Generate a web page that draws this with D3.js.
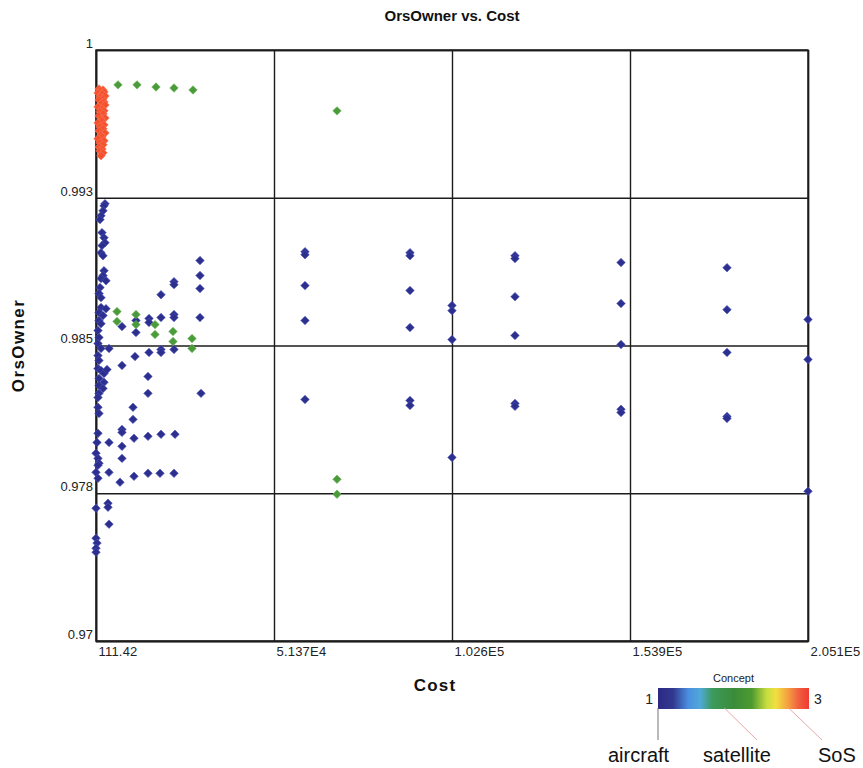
<!DOCTYPE html>
<html>
<head>
<meta charset="utf-8">
<script src="https://cdn.jsdelivr.net/npm/d3@7"></script>
<style>
  body { margin: 0; background: #fff; }
  text { font-family: Arial, "Liberation Sans", sans-serif; }
</style>
</head>
<body>
<svg id="scatter" width="863" height="768"></svg>
<script>
// tick values and their printed labels
const xTicks = [111.42, 51361.42, 102611.42, 153861.42, 205111.42];
const xTickLabels = ['111.42', '5.137E4', '1.026E5', '1.539E5', '2.051E5'];
const yTicks = [0.97, 0.9775, 0.985, 0.9925, 1];
const yTickLabels = ['0.97', '0.978', '0.985', '0.993', '1'];

// legend: concept 1..3
const conceptNames = ['aircraft', 'satellite', 'SoS'];

// [Cost, OrsOwner] per concept
const aircraft = [
  // dense column at the low-cost end
  [2703, 0.99220], [2415, 0.99209], [2127, 0.99184], [1551, 0.99159], [1263, 0.99139],
  [1839, 0.99073], [2415, 0.99047], [2703, 0.99022], [1839, 0.99007], [1551, 0.98971],
  [2127, 0.98956], [2415, 0.98880], [2127, 0.98855], [1551, 0.98840], [2990, 0.98829],
  [1263, 0.98794], [975, 0.98764], [1551, 0.98743], [1551, 0.98693], [2990, 0.98687],
  [975, 0.98667], [2127, 0.98652], [975, 0.98627], [1551, 0.98611], [687, 0.98576],
  [975, 0.98541], [687, 0.98510], [1551, 0.98485], [687, 0.98449], [975, 0.98424],
  [687, 0.98383], [1551, 0.98373], [2415, 0.98358], [975, 0.98333], [2415, 0.98313],
  [975, 0.98297], [2127, 0.98282], [975, 0.98257], [687, 0.98236], [687, 0.98186],
  [975, 0.98155], [687, 0.98054], [399, 0.98008], [111, 0.97953], [687, 0.97927],
  [975, 0.97902], [687, 0.97892], [111, 0.97856], [687, 0.97826], [111, 0.97674],
  [111, 0.97522], [399, 0.97497], [111, 0.97471], [111, 0.97451],
  // small-cost groups
  [3278, 0.98378], [3854, 0.98485], [3854, 0.98008], [3854, 0.97856], [3566, 0.97699],
  [3566, 0.97679], [3854, 0.97593],
  [7597, 0.98596], [7597, 0.98399], [7597, 0.98074], [7597, 0.98059], [7597, 0.97988],
  [7597, 0.97927], [7021, 0.97806],
  [11628, 0.98627], [11628, 0.98566], [11340, 0.98444], [10765, 0.98186], [10765, 0.98125],
  [11052, 0.98029], [11052, 0.97836],
  [15371, 0.98637], [15371, 0.98617], [15371, 0.98465], [15083, 0.98343], [15083, 0.98257],
  [15083, 0.98039], [15083, 0.97851],
  [18826, 0.98758], [18826, 0.98642], [18826, 0.98480], [18826, 0.98465], [18826, 0.98049],
  [18538, 0.97851],
  [22569, 0.98824], [22569, 0.98809], [22569, 0.98657], [22569, 0.98642], [22569, 0.98480],
  [22857, 0.98049], [22569, 0.97851],
  [30055, 0.98931], [30055, 0.98855], [30055, 0.98789], [30055, 0.98642], [30343, 0.98257],
  // expensive designs
  [60286, 0.98976], [60286, 0.98961], [60286, 0.98804], [60286, 0.98627], [60286, 0.98226],
  [90518, 0.98971], [90518, 0.98956], [90518, 0.98779], [90518, 0.98591], [90518, 0.98221],
  [90518, 0.98196],
  [102611, 0.98703], [102611, 0.98677], [102611, 0.98530], [102611, 0.97932],
  [120749, 0.98956], [120749, 0.98941], [120749, 0.98748], [120749, 0.98551], [120749, 0.98206],
  [120749, 0.98191],
  [151269, 0.98921], [151269, 0.98713], [151269, 0.98505], [151269, 0.98176], [151269, 0.98160],
  [181789, 0.98895], [181789, 0.98682], [181789, 0.98465], [181789, 0.98140], [181789, 0.98130],
  [205111, 0.98632], [205111, 0.98429], [205111, 0.97760]
];

const satellite = [
  [6445, 0.99823], [11916, 0.99823], [17386, 0.99812], [22569, 0.99807], [28039, 0.99797],
  [69500, 0.99691], [69500, 0.97821], [69500, 0.97745],
  [6157, 0.98672], [6157, 0.98622], [11628, 0.98657], [11628, 0.98606], [17098, 0.98606],
  [17098, 0.98556], [22281, 0.98571], [22281, 0.98520], [27751, 0.98535], [27751, 0.98485]
];

const sos = [
  [975, 0.99802], [2127, 0.99797], [1263, 0.99792], [2415, 0.99787], [687, 0.99782],
  [1839, 0.99777], [2703, 0.99767], [1263, 0.99762], [2127, 0.99752], [975, 0.99747],
  [2415, 0.99736], [1551, 0.99726], [2703, 0.99721], [687, 0.99711], [1839, 0.99701],
  [2415, 0.99691], [1263, 0.99686], [2127, 0.99676], [975, 0.99666], [2703, 0.99655],
  [1551, 0.99650], [1839, 0.99640], [687, 0.99630], [2415, 0.99620], [1263, 0.99610],
  [2127, 0.99600], [975, 0.99590], [2703, 0.99579], [1551, 0.99569], [1839, 0.99559],
  [687, 0.99549], [2415, 0.99539], [1263, 0.99529], [2127, 0.99519], [975, 0.99508],
  [1839, 0.99498], [1263, 0.99488], [2127, 0.99478], [1551, 0.99463]
];

const svg = d3.select('#scatter');
const width = +svg.attr('width');
const height = +svg.attr('height');

const margin = { top: 50, right: 55, bottom: 127, left: 96 };
const innerWidth = width - margin.left - margin.right;
const innerHeight = height - margin.top - margin.bottom;

svg.append('rect').attr('width', width).attr('height', height).attr('fill', '#fff');

const xScale = d3.scaleLinear()
  .domain([xTicks[0], xTicks[xTicks.length - 1]])
  .range([0, innerWidth]);

const yScale = d3.scaleLinear()
  .domain([yTicks[0], yTicks[yTicks.length - 1]])
  .range([innerHeight, 0]);

// concept colour ramp (1 = aircraft ... 3 = SoS)
const rampStops = [
  [0.00, '#2b2a86'], [0.10, '#33388f'], [0.20, '#4a8fe0'], [0.28, '#50a8d8'],
  [0.36, '#3c9a5c'], [0.50, '#3a8c3a'], [0.62, '#4c9a30'], [0.72, '#c8dc40'],
  [0.78, '#f0e040'], [0.86, '#f5a040'], [0.93, '#f06040'], [1.00, '#f03a30']
];
const markColor = { aircraft: '#2c2f8e', satellite: '#4b9b3c', SoS: '#f4512f' };
const markEdge = { aircraft: '#4a52b8', satellite: '#6ab456', SoS: '#f87a5a' };

const g = svg.append('g')
  .attr('transform', `translate(${margin.left}, ${margin.top})`);

// x axis with full-height grid lines
const xAxis = g.append('g')
  .attr('transform', `translate(0, ${innerHeight})`)
  .call(d3.axisBottom(xScale)
    .tickValues(xTicks)
    .tickSize(-innerHeight)
    .tickFormat((d, i) => xTickLabels[i]));
xAxis.select('.domain').attr('stroke', '#1c1c1c').attr('stroke-width', 1.4);
xAxis.selectAll('line').attr('stroke', '#1c1c1c').attr('stroke-width', 1.4);
xAxis.selectAll('text')
  .attr('text-anchor', 'start')
  .attr('x', 2)
  .attr('y', 6)
  .attr('dy', '0.71em')
  .style('font-size', '13px')
  .style('letter-spacing', '0.2px')
  .attr('fill', '#222');

// y axis with full-width grid lines
const yAxis = g.append('g')
  .call(d3.axisLeft(yScale)
    .tickValues(yTicks)
    .tickSize(-innerWidth)
    .tickPadding(3)
    .tickFormat((d, i) => yTickLabels[i]));
yAxis.select('.domain').attr('stroke', '#1c1c1c').attr('stroke-width', 1.4);
yAxis.selectAll('line').attr('stroke', '#1c1c1c').attr('stroke-width', 1.4);
yAxis.selectAll('text')
  .attr('dy', '-0.2em')
  .style('font-size', '13px')
  .attr('fill', '#222');

// plot frame
g.append('rect')
  .attr('width', innerWidth)
  .attr('height', innerHeight)
  .attr('fill', 'none')
  .attr('stroke', '#1c1c1c')
  .attr('stroke-width', 1.4);

// points
const diamond = d3.symbol().type(d3.symbolSquare).size(36);
const series = [
  { name: 'aircraft', data: aircraft },
  { name: 'satellite', data: satellite },
  { name: 'SoS', data: sos }
];

g.append('g')
  .selectAll('g')
  .data(series)
  .join('g')
  .selectAll('path')
  .data(s => s.data.map(d => ({ name: s.name, cost: d[0], ors: d[1] })))
  .join('path')
  .attr('d', diamond)
  .attr('transform', d => `translate(${xScale(d.cost)}, ${yScale(d.ors)}) rotate(45)`)
  .attr('fill', d => markColor[d.name])
  .attr('stroke', d => markEdge[d.name])
  .attr('stroke-width', 0.6);

// titles
svg.append('text')
  .attr('x', margin.left + innerWidth / 2)
  .attr('y', 21)
  .attr('text-anchor', 'middle')
  .style('font-size', '15px')
  .style('font-weight', 'bold')
  .attr('fill', '#111')
  .text('OrsOwner vs. Cost');

svg.append('text')
  .attr('x', 435)
  .attr('y', 691)
  .attr('text-anchor', 'middle')
  .style('font-size', '17px')
  .style('font-weight', 'bold')
  .style('letter-spacing', '1.2px')
  .attr('fill', '#111')
  .text('Cost');

svg.append('text')
  .attr('transform', `translate(24, ${margin.top + innerHeight / 2}) rotate(-90)`)
  .attr('text-anchor', 'middle')
  .style('font-size', '17px')
  .style('font-weight', 'bold')
  .style('letter-spacing', '1.4px')
  .attr('fill', '#111')
  .text('OrsOwner');

// colour legend
const legendScale = d3.scaleLinear().domain([1, 3]).range([658, 809]);
const grad = svg.append('defs').append('linearGradient').attr('id', 'conceptRamp');
grad.selectAll('stop')
  .data(rampStops)
  .join('stop')
  .attr('offset', d => d[0])
  .attr('stop-color', d => d[1]);

const legend = svg.append('g');
legend.append('rect')
  .attr('x', legendScale(1))
  .attr('y', 688)
  .attr('width', legendScale(3) - legendScale(1))
  .attr('height', 21)
  .attr('fill', 'url(#conceptRamp)');

legend.append('text')
  .attr('x', (legendScale(1) + legendScale(3)) / 2)
  .attr('y', 682)
  .attr('text-anchor', 'middle')
  .style('font-size', '11px')
  .attr('fill', '#222')
  .text('Concept');

legend.append('text')
  .attr('x', legendScale(1) - 5)
  .attr('y', 704)
  .attr('text-anchor', 'end')
  .style('font-size', '14px')
  .attr('fill', '#222')
  .text('1');

legend.append('text')
  .attr('x', legendScale(3) + 5)
  .attr('y', 704)
  .style('font-size', '14px')
  .attr('fill', '#222')
  .text('3');

// leader lines from the ramp to the concept names
const leaders = [
  { from: 1, to: 658, color: '#777' },
  { from: 1.88, to: 757, color: '#e8a8a8' },
  { from: 2.73, to: 822, color: '#e8a8a8' }
];
legend.selectAll('line.leader')
  .data(leaders)
  .join('line')
  .attr('class', 'leader')
  .attr('x1', d => legendScale(d.from))
  .attr('y1', 708)
  .attr('x2', d => d.to)
  .attr('y2', 740)
  .attr('stroke', d => d.color)
  .attr('stroke-width', 1);

const nameX = [608, 703, 818];
legend.selectAll('text.concept')
  .data(conceptNames)
  .join('text')
  .attr('class', 'concept')
  .attr('x', (d, i) => nameX[i])
  .attr('y', 762)
  .style('font-size', '20px')
  .attr('fill', '#111')
  .text(d => d);
</script>
</body>
</html>
